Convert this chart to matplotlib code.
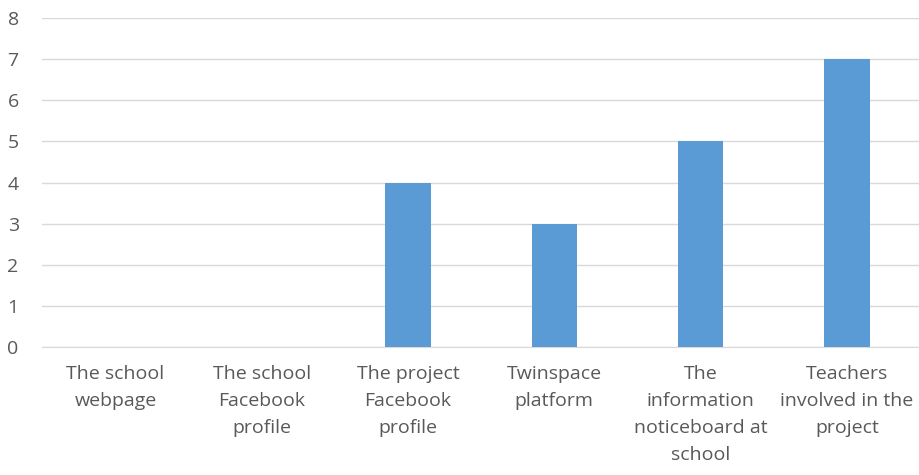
import matplotlib
matplotlib.use("Agg")
import matplotlib.pyplot as plt

plt.rcParams['font.family'] = ['Open Sans', 'DejaVu Sans']

categories = ["The school\nwebpage", "The school\nFacebook\nprofile",
              "The project\nFacebook\nprofile", "Twinspace\nplatform",
              "The\ninformation\nnoticeboard at\nschool",
              "Teachers\ninvolved in the\nproject"]
values = [0, 0, 4, 3, 5, 7]

fig = plt.figure(figsize=(9.2, 4.75), dpi=100)
ax = fig.add_axes([0.046, 0.2695, 0.954, 0.6925])

x = range(len(categories))
ax.bar(x, values, width=0.31, color='#5B9BD5', zorder=3)

ax.set_xlim(-0.5, len(categories) - 0.5)
ax.set_ylim(0, 8)
ax.set_yticks(range(0, 9))
ax.yaxis.grid(True, color='#D9D9D9', linewidth=1, zorder=0)
ax.set_xticks(list(x))
ax.set_xticklabels(categories, linespacing=1.64)
ax.tick_params(axis='both', length=0, labelsize=14, colors='#595959')
ax.tick_params(axis='x', pad=13)
ax.tick_params(axis='y', pad=17)
for s in ['top', 'right', 'left']:
    ax.spines[s].set_visible(False)
ax.spines['bottom'].set_color('#D9D9D9')

fig.savefig('out.png', dpi=100)
